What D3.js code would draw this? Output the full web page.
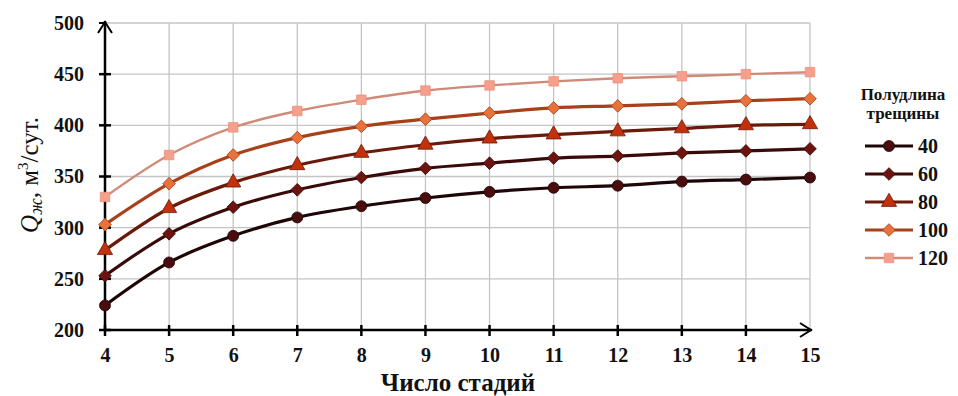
<!DOCTYPE html>
<html><head><meta charset="utf-8">
<script src="https://cdn.jsdelivr.net/npm/d3@7"></script>
<style>body{margin:0;background:#fff}svg{display:block}</style>
</head><body><svg id="c" width="958" height="396"></svg>
<script>
const stages = [4,5,6,7,8,9,10,11,12,13,14,15];
const s40  = [224,266,292,310,321,329,335,339,341,345,347,349];
const s60  = [253,294,320,337,349,358,363,368,370,373,375,377];
const s80  = [278,319,344,361,373,381,387,391,394,397,400,401];
const s100 = [303,343,371,388,399,406,412,417,419,421,424,426];
const s120 = [330,371,398,414,425,434,439,443,446,448,450,452];
const seriesNames = ["40","60","80","100","120"];
const yTicks = [200,250,300,350,400,450,500];
const xTicks = [4,5,6,7,8,9,10,11,12,13,14,15];
const markerColors = ["#4a0c0c","#6e1410","#c2300c","#e8723c","#f4a08c"];
const lineColors = ["#1e0606","#3a0a08","#6a1a0a","#a8401a","#d08a78"];
const shapes = [d3.symbolCircle,d3.symbolSquare,d3.symbolTriangle,d3.symbolSquare,d3.symbolSquare];
const rotations = [0,45,0,45,0];
const sizes = [95,80,100,80,90];
const allSeries = [s40,s60,s80,s100,s120];

const svg = d3.select("#c");
const x = d3.scaleLinear().domain([4,15]).range([105,810]);
const y = d3.scaleLinear().domain([200,500]).range([330,23]);
const font = "'Liberation Serif', 'Times New Roman', serif";

// grid
svg.append("g").selectAll("line").data(xTicks.slice(1)).join("line")
  .attr("x1",d=>x(d)).attr("x2",d=>x(d)).attr("y1",y(500)).attr("y2",y(200))
  .attr("stroke","#c4c4c4").attr("stroke-width",1.3);
svg.append("g").selectAll("line").data(yTicks.slice(1)).join("line")
  .attr("x1",x(4)).attr("x2",x(15)).attr("y1",d=>y(d)).attr("y2",d=>y(d))
  .attr("stroke","#c4c4c4").attr("stroke-width",1.3);

// axes
const yAxis = d3.axisLeft(y).tickValues(yTicks).tickSize(0).tickPadding(21);
const ya = svg.append("g").attr("transform",`translate(${x(4)},0)`).call(yAxis);
ya.select(".domain").remove();
ya.selectAll("text").attr("font-family",font).attr("font-weight","bold").attr("font-size",20).attr("fill","#111");
const xAxis = d3.axisBottom(x).tickValues(xTicks).tickSize(0).tickPadding(18);
const xa = svg.append("g").attr("transform",`translate(0,${y(200)})`).call(xAxis);
xa.select(".domain").remove();
xa.selectAll("text").attr("font-family",font).attr("font-weight","bold").attr("font-size",20).attr("fill","#111");

// axis lines with arrows
svg.append("line").attr("x1",x(4)).attr("x2",x(4)).attr("y1",y(200)).attr("y2",y(500)-2).attr("stroke","#000").attr("stroke-width",2.5);
svg.append("line").attr("x1",x(4)).attr("x2",x(15)+2).attr("y1",y(200)).attr("y2",y(200)).attr("stroke","#000").attr("stroke-width",2.5);
svg.append("path").attr("d",`M${x(4)-7},${y(500)+10}L${x(4)},${y(500)-1}L${x(4)+7},${y(500)+10}`).attr("fill","none").attr("stroke","#000").attr("stroke-width",2);
svg.append("path").attr("d",`M${x(15)-10},${y(200)-7}L${x(15)+1},${y(200)}L${x(15)-10},${y(200)+7}`).attr("fill","none").attr("stroke","#000").attr("stroke-width",2);
// tick marks
svg.append("g").selectAll("line").data(yTicks.slice(0,-1)).join("line")
  .attr("x1",x(4)-6).attr("x2",x(4)+6).attr("y1",d=>y(d)).attr("y2",d=>y(d)).attr("stroke","#000").attr("stroke-width",2.5);
svg.append("line").attr("x1",x(4)-6).attr("x2",x(4)).attr("y1",y(500)).attr("y2",y(500)).attr("stroke","#000").attr("stroke-width",2);
svg.append("g").selectAll("line").data(xTicks.slice(0,-1)).join("line")
  .attr("x1",d=>x(d)).attr("x2",d=>x(d)).attr("y1",y(200)-5).attr("y2",y(200)+6).attr("stroke","#000").attr("stroke-width",2.5);

// lines
const line = d3.line().x((d,i)=>x(stages[i])).y(d=>y(d)).curve(d3.curveMonotoneX);
allSeries.forEach((s,k)=>{
  svg.append("path").datum(s).attr("d",line).attr("fill","none")
    .attr("stroke",lineColors[k]).attr("stroke-width",k===4?2.4:3.2);
  svg.append("g").selectAll("path").data(s).join("path")
    .attr("transform",(d,i)=>`translate(${x(stages[i])},${y(d)}) rotate(${rotations[k]})`)
    .attr("d",d3.symbol().type(shapes[k]).size(sizes[k]))
    .attr("fill",markerColors[k]).attr("stroke",k===4?"#f0907c":lineColors[k]).attr("stroke-width",0.8);
});

// axis titles
const yl = svg.append("text").attr("transform","translate(38,175) rotate(-90)").attr("text-anchor","middle")
  .attr("font-family",font).attr("font-size",25).attr("fill","#111");
yl.append("tspan").attr("font-style","italic").text("Q");
yl.append("tspan").attr("font-style","italic").attr("font-size",18).attr("dy",4).text("ж");
yl.append("tspan").attr("dy",-4).text(", м");
yl.append("tspan").attr("font-size",15).attr("dy",-10).text("3");
yl.append("tspan").attr("dy",10).text("/сут.");

svg.append("text").attr("x",458).attr("y",391).attr("text-anchor","middle")
  .attr("font-family",font).attr("font-weight","bold").attr("font-size",25).attr("fill","#111").text("Число стадий");

// legend
const lg = svg.append("g");
lg.append("text").attr("x",903).attr("y",100).attr("text-anchor","middle").attr("font-family",font).attr("font-weight","bold").attr("font-size",17).attr("fill","#111").text("Полудлина");
lg.append("text").attr("x",903).attr("y",119).attr("text-anchor","middle").attr("font-family",font).attr("font-weight","bold").attr("font-size",17).attr("fill","#111").text("трещины");
const ly = [146,174,202,230,258];
seriesNames.forEach((n,k)=>{
  lg.append("line").attr("x1",865).attr("x2",913).attr("y1",ly[k]).attr("y2",ly[k]).attr("stroke",lineColors[k]).attr("stroke-width",k===4?2.4:3.2);
  lg.append("path").attr("transform",`translate(889,${ly[k]}) rotate(${rotations[k]})`).attr("d",d3.symbol().type(shapes[k]).size(sizes[k]))
    .attr("fill",markerColors[k]).attr("stroke",k===4?"#f0907c":lineColors[k]).attr("stroke-width",0.8);
  lg.append("text").attr("x",918).attr("y",ly[k]+7).attr("font-family",font).attr("font-weight","bold").attr("font-size",20).attr("fill","#111").text(n);
});
</script></body></html>
